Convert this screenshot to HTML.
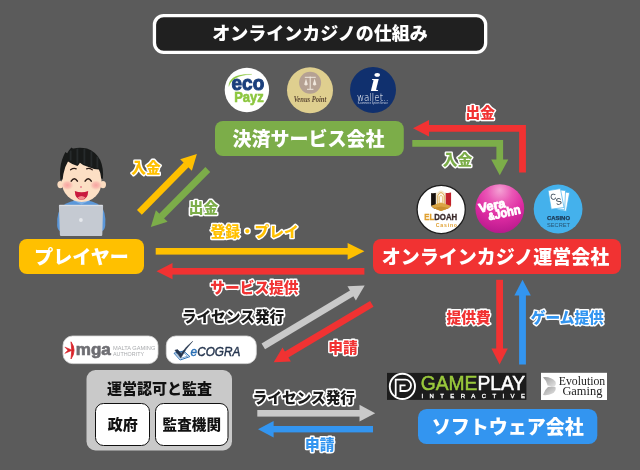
<!DOCTYPE html>
<html lang="ja">
<head>
<meta charset="utf-8">
<title>オンラインカジノの仕組み</title>
<style>
html,body{margin:0;padding:0;background:#5b5b5b;}
body{width:640px;height:470px;overflow:hidden;}
svg{display:block;will-change:transform;}
text{font-family:"Liberation Sans","Noto Sans CJK JP",sans-serif;font-weight:900;}
.box{font-size:19px;fill:#fff;text-anchor:middle;}
.lbl{font-size:14.7px;text-anchor:middle;paint-order:stroke;stroke:#fff;stroke-width:2.9px;stroke-linejoin:round;}
.lblk{font-size:14.7px;text-anchor:middle;paint-order:stroke;stroke:#fff;stroke-width:3.3px;stroke-linejoin:round;fill:#1a1a1a;}
</style>
</head>
<body>
<svg width="640" height="470" viewBox="0 0 640 470">
<rect width="640" height="470" fill="#5b5b5b"/>

<!-- title -->
<rect x="154.45" y="15.55" width="331.2" height="36.8" rx="9.3" fill="#202020" stroke="#fff" stroke-width="3.3"/>
<text x="320" y="40.3" font-size="18" fill="#fff" text-anchor="middle">オンラインカジノの仕組み</text>

<!-- main boxes -->
<rect x="215" y="121" width="188.8" height="35" rx="8" fill="#7cad49"/>
<text class="box" x="308.5" y="145.5">決済サービス会社</text>

<rect x="19" y="239" width="125" height="35" rx="8" fill="#ffc000"/>
<text class="box" x="81.5" y="264">プレイヤー</text>

<rect x="373" y="239" width="248" height="35" rx="8" fill="#f13232"/>
<text class="box" x="495.5" y="264">オンラインカジノ運営会社</text>

<rect x="418" y="409" width="179.3" height="35" rx="8.6" fill="#3395f0"/>
<text class="box" x="507.8" y="434">ソフトウェア会社</text>

<!-- gray box -->
<rect x="86.5" y="370" width="145.5" height="80.5" rx="9" fill="#c9c9c9"/>
<text x="159.5" y="394" font-size="15" fill="#111" text-anchor="middle">運営認可と監査</text>
<rect x="95.5" y="403.5" width="54" height="42" rx="8" fill="#fff" stroke="#111" stroke-width="1"/>
<text x="122.8" y="430" font-size="15" fill="#111" text-anchor="middle">政府</text>
<rect x="155.5" y="403.5" width="72.5" height="42" rx="8" fill="#fff" stroke="#111" stroke-width="1"/>
<text x="191.8" y="430" font-size="14.6" fill="#111" text-anchor="middle">監査機関</text>

<!-- arrows -->
<g id="arrows">
<!-- red elbow 出金 -->
<path d="M522.5 172.5 V128.3 H428" fill="none" stroke="#f13232" stroke-width="6.8"/>
<polygon points="413,128.3 429,120 429,136.6" fill="#f13232"/>
<!-- green elbow 入金 -->
<path d="M412.3 143.45 H499.75 V160" fill="none" stroke="#7cad49" stroke-width="6.7"/>
<polygon points="499.75,175.3 491.2,159.5 508.3,159.5" fill="#7cad49"/>

<!-- orange horizontal -->
<rect x="155.7" y="248" width="192.5" height="6.6" fill="#ffc000"/>
<polygon points="364.4,251.3 347.6,243 347.6,259.7" fill="#ffc000"/>
<!-- red horizontal -->
<rect x="172" y="268" width="192.4" height="6.6" fill="#f13232"/>
<polygon points="156.5,271.2 172.5,263 172.5,279.3" fill="#f13232"/>

<!-- orange diagonal 入金 -->
<g transform="translate(139.4,212.4) rotate(-45.5)">
<rect x="0" y="-3.4" width="67" height="6.8" fill="#ffc000"/>
<polygon points="82,0 66.5,-8.2 66.5,8.2" fill="#ffc000"/>
</g>
<!-- green diagonal 出金 -->
<g transform="translate(207.8,169.5) rotate(134.7)">
<rect x="0" y="-3.4" width="66" height="6.8" fill="#7cad49"/>
<polygon points="81,0 65.5,-8.2 65.5,8.2" fill="#7cad49"/>
</g>

<!-- gray diagonal license -->
<g transform="translate(263.3,346.3) rotate(-30.93)">
<rect x="0" y="-3.4" width="104" height="6.8" fill="#c9c9c9"/>
<polygon points="118.2,0 103,-8.2 103,8.2" fill="#c9c9c9"/>
</g>
<!-- red diagonal 申請 -->
<g transform="translate(371.8,303.9) rotate(149.28)">
<rect x="0" y="-3.4" width="100" height="6.8" fill="#f13232"/>
<polygon points="114.1,0 99,-8.2 99,8.2" fill="#f13232"/>
</g>

<!-- gray horizontal -->
<rect x="257.3" y="410" width="103" height="6.6" fill="#c9c9c9"/>
<polygon points="375.2,413.3 359.5,404.8 359.5,421.5" fill="#c9c9c9"/>
<!-- blue horizontal -->
<rect x="273" y="426" width="100" height="6.4" fill="#3395f0"/>
<polygon points="258,429.2 273.6,421 273.6,437.4" fill="#3395f0"/>

<!-- red down -->
<rect x="496.2" y="279.8" width="6.8" height="70" fill="#f13232"/>
<polygon points="499.6,364.5 491.4,348.5 507.8,348.5" fill="#f13232"/>
<!-- blue up -->
<rect x="519.1" y="295" width="6.8" height="69.5" fill="#3395f0"/>
<polygon points="522.5,279.8 514.4,295.4 530.8,295.4" fill="#3395f0"/>
</g>

<!-- labels -->
<text class="lbl" x="480.3" y="118.4" fill="#f13232">出金</text>
<text class="lbl" x="457.5" y="164.6" fill="#7cad49">入金</text>
<text class="lbl" x="146" y="172.6" fill="#ffc000">入金</text>
<text class="lbl" x="203.5" y="212.8" fill="#7cad49">出金</text>
<text class="lbl" x="254.6" y="237.4" fill="#ffc000">登録・プレイ</text>
<text class="lbl" x="254.4" y="293.2" fill="#f13232">サービス提供</text>
<text class="lblk" x="233" y="322.3">ライセンス発行</text>
<text class="lbl" x="343" y="353.0" fill="#f13232">申請</text>
<text class="lblk" x="303.8" y="403.2">ライセンス発行</text>
<text class="lbl" x="319.7" y="450.0" fill="#3395f0">申請</text>
<text class="lbl" x="468.6" y="323.2" fill="#f13232">提供費</text>
<text class="lbl" x="567.3" y="323.2" fill="#3395f0">ゲーム提供</text>

<!-- ===== player illustration ===== -->
<g id="boy">
<!-- body / shirt -->
<path d="M57.2 226 Q56.4 211 63 205.5 Q70 200.2 81.5 200.2 Q93 200.2 100 205.5 Q106.6 211 105.2 226 Q104.6 231.4 100 231.6 H62 Q57.6 231.4 57.2 226 Z" fill="#5b97d9"/>
<path d="M73 200.6 L81.5 204.4 L90 200.6 L86 199 H77 Z" fill="#7db0e6"/>
<!-- ears -->
<ellipse cx="60.4" cy="184.6" rx="3" ry="3.6" fill="#fbdcc0"/>
<ellipse cx="103" cy="184.6" rx="3" ry="3.6" fill="#fbdcc0"/>
<!-- face -->
<ellipse cx="81.7" cy="182.4" rx="19.8" ry="19.6" fill="#fcdfc4"/>
<path d="M62.4 182 Q62 162 72 158 H92 Q101.6 162 101.2 182 Z" fill="#fcdfc4"/>
<!-- hair -->
<path d="M60.4 180 Q59.2 168 62 160 Q63.6 155.4 65.4 152 Q66.4 153 67.2 153.2 Q69 149.6 71.4 147.4 Q72.4 148.6 73.6 148.4 Q80 146.8 87 148.6 Q95.4 151.4 100.2 160 Q103.8 168 102.9 179 L101.1 178.2 Q100.8 172.6 98.8 169.6 Q92.6 169.2 87.1 166.6 Q82.6 165.2 79.9 162.7 Q79 164.6 77.5 165.9 Q72 164.6 68 161.6 Q64.6 167 63.4 174 L62.6 179.4 Z" fill="#181a19"/>
<g stroke="#343a3e" stroke-width="1.8" fill="none" opacity="0.5">
<path d="M70.6 150.6 V160.6"/><path d="M77.4 148.6 V163.6"/><path d="M84.4 148.8 V164"/><path d="M91.4 151.4 V166.6"/><path d="M97.4 156.6 V168"/>
</g>
<!-- cheeks -->
<defs><radialGradient id="chk"><stop offset="0" stop-color="#f79c9c" stop-opacity="0.9"/><stop offset="0.55" stop-color="#f7a5a2" stop-opacity="0.6"/><stop offset="1" stop-color="#f9b8ae" stop-opacity="0"/></radialGradient></defs>
<ellipse cx="67.4" cy="185.2" rx="6.2" ry="5" fill="url(#chk)"/>
<ellipse cx="96" cy="185.2" rx="6.2" ry="5" fill="url(#chk)"/>
<!-- brows -->
<path d="M70.6 169.8 Q73.4 167.8 76.2 168.8" fill="none" stroke="#2a1a14" stroke-width="1.3" stroke-linecap="round"/>
<path d="M86.6 168.8 Q89.4 167.8 92.2 169.8" fill="none" stroke="#2a1a14" stroke-width="1.3" stroke-linecap="round"/>
<!-- eyes -->
<path d="M71.2 181.2 Q74.3 176.4 77.4 181.2" fill="none" stroke="#2a1a14" stroke-width="1.5" stroke-linecap="round"/>
<path d="M85.1 181.2 Q88.2 176.4 91.3 181.2" fill="none" stroke="#2a1a14" stroke-width="1.5" stroke-linecap="round"/>
<!-- nose -->
<ellipse cx="81" cy="187.1" rx="1" ry="0.75" fill="#e0607a"/>
<!-- mouth -->
<path d="M74.8 191 Q81.5 193.4 88.2 191 Q88 199.6 81.5 199.8 Q75 199.6 74.8 191 Z" fill="#c91a3e"/>
<path d="M77.6 197.6 Q81.5 194.6 85.4 197.6 Q83.6 199.8 81.5 199.8 Q79.4 199.8 77.6 197.6 Z" fill="#f28b8b"/>
<!-- laptop -->
<path d="M59.8 204.7 H102.2 Q103.2 204.7 103.1 205.8 L102.3 235 Q102.2 236 101.2 236 H61 Q60 236 59.9 235 L58.9 205.8 Q58.8 204.7 59.8 204.7 Z" fill="#c5cad2"/>
<path d="M59.6 205.6 H102.4" stroke="#dde0e5" stroke-width="1" fill="none"/>
<circle cx="80.9" cy="220" r="1.9" fill="#e6e9ed"/>
</g>

<!-- ===== payment logos ===== -->
<g id="ecopayz">
<circle cx="246.9" cy="90" r="22.2" fill="#fff"/>
<path d="M228.8 86.5 C228.6 79.5 235 73.6 252 74.4 C238 74.6 231 79.5 228.8 86.5 Z" fill="#8cc63f" stroke="#8cc63f" stroke-width="0.2"/>
<text x="231.6" y="89.5" font-size="20.4" fill="#1b3f7c" stroke="#1b3f7c" stroke-width="1" textLength="32.6" lengthAdjust="spacingAndGlyphs" style="font-weight:700">eco</text>
<text x="234.2" y="101.8" font-size="14.4" fill="#8cc63f" stroke="#8cc63f" stroke-width="0.6" textLength="29.6" lengthAdjust="spacingAndGlyphs" style="font-weight:700">Payz</text>
</g>

<g id="venus">
<circle cx="310" cy="90.2" r="23" fill="#dfcf8f"/>
<circle cx="310.1" cy="82.8" r="11" fill="#b5a193"/>
<g stroke="#f1e9df" stroke-width="1" fill="none" stroke-linecap="round">
<path d="M305.2 77.3 H315.4"/>
<path d="M310.2 77 V89"/>
<path d="M307.4 89.3 H313"/>
</g>
<path d="M306 78.5 L304.2 84.6 Q306 86.4 307.8 84.6 Z M314.6 78.5 L312.8 84.6 Q314.6 86.4 316.4 84.6 Z" fill="#efe6dc"/>
<text x="310" y="102" font-size="7.2" text-anchor="middle" fill="#5a4632" textLength="32.6" lengthAdjust="spacingAndGlyphs" style="font-family:'Liberation Serif',serif;font-style:italic;font-weight:700">Venus Point</text>
</g>

<g id="iwallet">
<circle cx="373" cy="89.9" r="23" fill="#10306e"/>
<text x="0" y="91" font-size="26" text-anchor="middle" fill="#fff" transform="translate(375 0) scale(1.4 1)" style="font-family:'Liberation Serif',serif;font-style:italic;font-weight:700">i</text>
<text x="357" y="100.8" font-size="9.8" fill="#fff" textLength="31.6" lengthAdjust="spacingAndGlyphs" style="font-family:'DejaVu Sans','Liberation Sans',sans-serif;font-weight:200">wallet..</text>
<text x="372.8" y="103.9" font-size="2.6" fill="#cfd6e6" text-anchor="middle" textLength="30" lengthAdjust="spacingAndGlyphs" style="font-weight:400">E-commerce System Service</text>
</g>

<!-- ===== casino logos ===== -->
<g id="eldoah">
<circle cx="441.2" cy="209.5" r="24.1" fill="#fff" stroke="#1d1d1d" stroke-width="1.3"/>
<clipPath id="shield"><path d="M431.1 193 Q434 193.6 437.6 192.4 Q439.4 190.4 441 190.6 Q442.8 190.4 444.4 192.4 Q448 193.6 451.1 192.6 V205.4 Q450.6 208 441 210.9 Q431.6 208 431.1 205.4 Z"/></clipPath>
<g clip-path="url(#shield)">
<rect x="430" y="189" width="23" height="23" fill="#f3e6cc"/>
<rect x="431" y="189" width="4.8" height="23" fill="#17110f"/>
<rect x="445.7" y="189" width="6" height="23" fill="#c2212d"/>
<path d="M437.8 206 V195.6 Q441 189.6 444.2 195.6 V206 Z" fill="#fff7ea" stroke="#d9a441" stroke-width="0.9"/>
<path d="M439.4 206 V197 Q441 193.6 442.6 197 V206 Z" fill="none" stroke="#d9a441" stroke-width="0.6"/>
<path d="M430 206.2 L441 202.4 L452 206.2 V212 H430 Z" fill="#dba544"/>
<path d="M430 208.6 L441 206.6 L452 208.6 V212 H430 Z" fill="#c98f2f"/>
</g>
<text x="424.2" y="220.3" font-size="8.7" textLength="33" lengthAdjust="spacingAndGlyphs" style="font-weight:700" stroke-width="0.3"><tspan fill="#e0a030" stroke="#e0a030">EL</tspan><tspan fill="#3a2a2a" stroke="#3a2a2a">DOAH</tspan></text>
<text x="435.8" y="226.8" font-size="5.2" fill="#e0a030" textLength="21.2" lengthAdjust="spacing" style="font-weight:700">Casino</text>
</g>

<g id="verajohn">
<defs>
<radialGradient id="vj" cx="0.5" cy="0.2" r="0.85" fx="0.5" fy="0.12">
<stop offset="0" stop-color="#f4a2d4"/>
<stop offset="0.3" stop-color="#ea58b6"/>
<stop offset="0.6" stop-color="#de2ba2"/>
<stop offset="1" stop-color="#b3178a"/>
</radialGradient>
</defs>
<circle cx="499.8" cy="208.6" r="24.4" fill="url(#vj)"/>
<g transform="rotate(-12 500 209)" fill="#fff" stroke="#fff" stroke-width="0.9" stroke-linejoin="round">
<text x="479.4" y="208.4" font-size="12.6" textLength="26.8" lengthAdjust="spacingAndGlyphs" style="font-weight:700">Vera</text>
<text x="486.8" y="217.7" font-size="12.6" textLength="33" lengthAdjust="spacingAndGlyphs" style="font-weight:700"><tspan font-size="10">&amp;</tspan>John</text>
</g>
</g>

<g id="casinosecret">
<circle cx="558.1" cy="209" r="24.4" fill="#44b1ec"/>
<polygon points="560.5,191.2 569.6,192.8 566.2,211.2 557,209.6" fill="#fff" stroke="#44b1ec" stroke-width="0.7"/>
<polygon points="556.4,189.6 565.6,190.6 564.6,209.8 555.4,208.8" fill="#fff" stroke="#44b1ec" stroke-width="0.7"/>
<polygon points="548.1,190.6 560.4,188.6 564,207.5 551.2,209.2" fill="#fff" stroke="#44b1ec" stroke-width="0.7"/>
<g transform="rotate(-9 556 199)">
<text x="550.6" y="199.2" font-size="8.2" fill="#1f2f3f" style="font-weight:400">C</text>
<text x="555.4" y="205" font-size="9" fill="#1f2f3f" style="font-weight:400">S</text>
</g>
<text x="558.5" y="219.8" font-size="5.9" fill="#1c3855" stroke="#1c3855" stroke-width="0.25" text-anchor="middle" textLength="23" lengthAdjust="spacingAndGlyphs" style="font-weight:700">CASINO</text>
<text x="558.5" y="226.5" font-size="5.9" fill="#265474" text-anchor="middle" textLength="23" lengthAdjust="spacingAndGlyphs" style="font-weight:400">SECRET</text>
</g>

<!-- ===== licence logos ===== -->
<g id="mga">
<rect x="63" y="336" width="95" height="27.6" rx="9.5" fill="#fff" stroke="#d9d9d9" stroke-width="0.8"/>
<path d="M71 341.8 Q77.2 350.3 71 359 Q72.6 350.3 71 341.8 Z" fill="#d8232a" stroke="#d8232a" stroke-width="0.8" stroke-linejoin="round"/>
<path d="M64.8 347 L72.4 350.2 L64.8 353.4 L67.8 350.2 Z" fill="#d8232a" stroke="#d8232a" stroke-width="0.5" stroke-linejoin="round"/>
<text x="75.8" y="354.5" font-size="17" fill="#6e6e73" stroke="#6e6e73" stroke-width="0.7" style="font-weight:700">mga</text>
<text x="113" y="350.2" font-size="5.3" fill="#a9abae" textLength="42.4" lengthAdjust="spacingAndGlyphs" style="font-weight:400">MALTA GAMING</text>
<text x="113" y="356.4" font-size="5.3" fill="#a9abae" textLength="31" lengthAdjust="spacingAndGlyphs" style="font-weight:400">AUTHORITY</text>
</g>

<g id="ecogra">
<rect x="166.3" y="336" width="90" height="27.6" rx="9.5" fill="#fff" stroke="#d9d9d9" stroke-width="0.8"/>
<path d="M174 353.2 L183.6 351 L189.9 356.6 L180.2 360 Z" fill="none" stroke="#2a6fb5" stroke-width="1"/>
<path d="M176.2 353.6 L183.2 352.2 L187.6 356.2 L180.6 358.4 Z" fill="none" stroke="#2a6fb5" stroke-width="0.6"/>
<path d="M174.9 350.2 L180.8 358 Q185.6 348.6 192.7 341.3 Q186 346.6 181.2 353.4 L177.6 349.6 Z" fill="#26364f" stroke="#26364f" stroke-width="0.5" stroke-linejoin="round"/>
<text x="190.6" y="356.4" font-size="13" textLength="49.8" lengthAdjust="spacingAndGlyphs" style="font-weight:400;font-style:italic" stroke-width="0.45"><tspan fill="#2a6fb5" stroke="#2a6fb5">e</tspan><tspan fill="#26364f" stroke="#26364f">COGRA</tspan></text>
</g>

<!-- ===== software logos ===== -->
<g id="gameplay">
<rect x="387" y="372.9" width="139.4" height="27" fill="#1c1c1c"/>
<circle cx="402.4" cy="386.4" r="12.6" fill="none" stroke="#fff" stroke-width="1.9"/>
<path d="M395.7 396.2 V379.7 H405.4 A5.65 5.65 0 0 1 405.4 391 H400.4 V385.3 H405.6" fill="none" stroke="#fff" stroke-width="1.8"/>
<text x="420.8" y="389.6" font-size="19.6" textLength="104.4" lengthAdjust="spacingAndGlyphs" style="font-weight:400" stroke-width="0.5"><tspan fill="#9aca3c" stroke="#9aca3c">GAME</tspan><tspan fill="#fff" stroke="#fff">PLAY</tspan></text>
<text x="421.4" y="398.1" font-size="6" fill="#fff" stroke="#fff" stroke-width="0.3" textLength="103.6" lengthAdjust="spacing" style="font-weight:400">INTERACTIVE</text>
</g>

<g id="evolution">
<rect x="541" y="372.8" width="66" height="27.2" fill="#fff"/>
<defs><linearGradient id="evg" x1="0" y1="0" x2="1" y2="1"><stop offset="0" stop-color="#9c9c9c"/><stop offset="1" stop-color="#e4e4e4"/></linearGradient></defs>
<path d="M543 377.2 Q551 376.4 555.4 381.6 Q556.6 384.6 554.6 386.4 Q551.4 386.6 547.6 385.6 Q546.6 380.4 543 377.2 Z" fill="url(#evg)"/>
<path d="M543 395 Q544.6 389.6 548 387 Q552 385.8 555.6 387.2 Q556.4 391 552.4 393.6 Q548 395.6 543 395 Z" fill="url(#evg)"/>
<text x="558.8" y="385.4" font-size="11.6" fill="#222" textLength="46.4" lengthAdjust="spacingAndGlyphs" style="font-family:'Liberation Serif',serif;font-weight:400">Evolution</text>
<text x="562.4" y="394.5" font-size="11.6" fill="#222" textLength="40" lengthAdjust="spacingAndGlyphs" style="font-family:'Liberation Serif',serif;font-weight:400">Gaming</text>
</g>

</svg>
</body>
</html>
